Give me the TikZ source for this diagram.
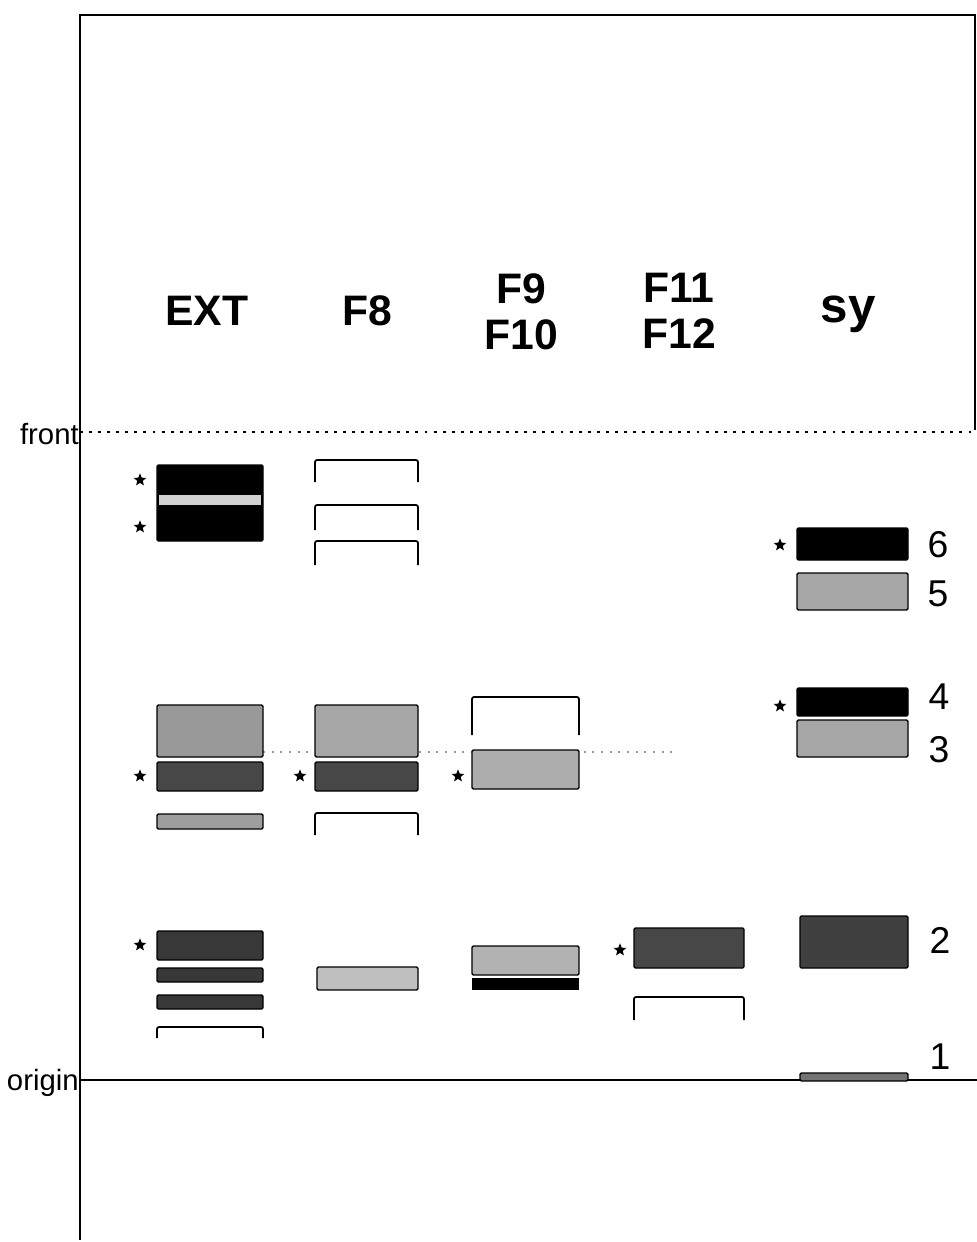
\documentclass[tikz,border=0pt]{standalone}
\usepackage{fontspec}
\setmainfont{Liberation Sans}
\usetikzlibrary{shapes.geometric}
\tikzset{
  frame/.style={line width=1.7pt, black},
  bracket/.style={line width=1.3pt, black, rounded corners=1.5pt},
  band/.style={fill=#1, draw=black, line width=1pt, rounded corners=1pt},
  stardot/.style={star, star points=5, star point ratio=2.3, fill=black, inner sep=0pt, minimum size=10pt},
  hdr/.style={font=\fontsize{32}{34.5}\selectfont\bfseries, align=center, inner sep=0pt},
  num/.style={font=\fontsize{28}{30}\selectfont, inner sep=0pt},
  lbl/.style={font=\fontsize{22}{24}\selectfont, inner sep=0pt}
}
\begin{document}
\begin{tikzpicture}[x=0.75pt,y=-0.75pt]
\useasboundingbox (0,0) rectangle (977,1242);
% frame
\coordinate (tl) at (80,15);
\coordinate (tr) at (975,15);
\coordinate (rb) at (975,430);
\coordinate (bl) at (80,1240);
\draw[frame] (bl) -- (tl) -- (tr) -- (rb);
% front line
\coordinate (fl) at (80,432);
\coordinate (fr) at (977,432);
\draw[line width=1.5pt, dash pattern=on 2.2pt off 4.6pt] (fl) -- (fr);
\node[lbl, anchor=east] (front) at (79,434) {front};
% origin line
\coordinate (ol) at (80,1080);
\coordinate (or) at (977,1080);
\draw[frame] (ol) -- (or);
\node[lbl, anchor=east] (origin) at (79,1083) {origin};
% faint dotted line
\coordinate (dl) at (263,752);
\coordinate (dr) at (672,752);
\draw[black!40, line width=1.2pt, dash pattern=on 1.5pt off 5pt] (dl) -- (dr);
% headers
\node[hdr] (hext) at (207,311) {EXT};
\node[hdr] (hf8) at (367,311) {F8};
\node[hdr] (hf9) at (521,312) {F9\\F10};
\node[hdr] (hf11) at (679,311) {F11\\F12};
\node[hdr, font=\fontsize{37}{40}\selectfont\bfseries] (hsy) at (848,314) {sy};
% ---- EXT lane
\draw[band=black] (157,465) rectangle (263,541);
\fill[black!18] (159,495) rectangle (261,505);
\draw[band=black!40] (157,705) rectangle (263,757);
\draw[band=black!72] (157,762) rectangle (263,791);
\draw[band=black!38] (157,814) rectangle (263,829);
\draw[band=black!78] (157,931) rectangle (263,960);
\draw[band=black!78] (157,968) rectangle (263,982);
\draw[band=black!78] (157,995) rectangle (263,1009);
\draw[bracket] (157,1038) -- (157,1027) -- (263,1027) -- (263,1038);
\node[stardot] (s1) at (140,480) {};
\node[stardot] (s2) at (140,527) {};
\node[stardot] (s3) at (140,776) {};
\node[stardot] (s4) at (140,945) {};
% ---- F8 lane
\draw[bracket] (315,482) -- (315,460) -- (418,460) -- (418,482);
\draw[bracket] (315,530) -- (315,505) -- (418,505) -- (418,530);
\draw[bracket] (315,565) -- (315,541) -- (418,541) -- (418,565);
\draw[band=black!35] (315,705) rectangle (418,757);
\draw[band=black!72] (315,762) rectangle (418,791);
\draw[bracket] (315,835) -- (315,813) -- (418,813) -- (418,835);
\draw[band=black!25] (317,967) rectangle (418,990);
\node[stardot] (s5) at (300,776) {};
% ---- F9/F10 lane
\draw[bracket] (472,735) -- (472,697) -- (579,697) -- (579,735);
\draw[band=black!32] (472,750) rectangle (579,789);
\draw[band=black!30] (472,946) rectangle (579,975);
\fill[black] (472,978) rectangle (579,990);
\node[stardot] (s6) at (458,776) {};
% ---- F11/F12 lane
\draw[band=black!72] (634,928) rectangle (744,968);
\draw[bracket] (634,1020) -- (634,997) -- (744,997) -- (744,1020);
\node[stardot] (s7) at (620,950) {};
% ---- sy lane
\draw[band=black] (797,528) rectangle (908,560);
\draw[band=black!35] (797,573) rectangle (908,610);
\draw[band=black] (797,688) rectangle (908,716);
\draw[band=black!35] (797,720) rectangle (908,757);
\draw[band=black!75] (800,916) rectangle (908,968);
\draw[band=black!55] (800,1073) rectangle (908,1081);
\node[stardot] (s8) at (780,545) {};
\node[stardot] (s9) at (780,706) {};
\node[num] (n6) at (938,545) {6};
\node[num] (n5) at (938,594) {5};
\node[num] (n4) at (939,697) {4};
\node[num] (n3) at (939,750) {3};
\node[num] (n2) at (940,940) {2};
\node[num] (n1) at (940,1057) {1};
\end{tikzpicture}
\end{document}
